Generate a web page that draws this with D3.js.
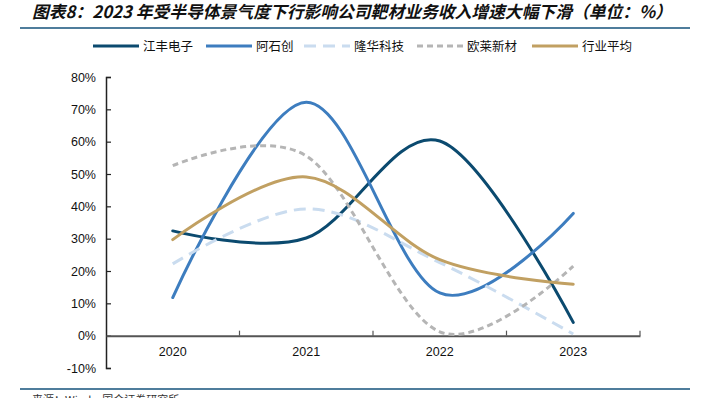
<!DOCTYPE html>
<html>
<head>
<meta charset="utf-8">
<script src="https://cdn.jsdelivr.net/npm/d3@7"></script>
<style>
  body { margin: 0; background: #fff; }
  svg { display: block; }
</style>
</head>
<body>
<div id="chart"></div>
<script>
// data
const years = ["2020", "2021", "2022", "2023"];
const jiangfeng = [32.4, 30.2, 60.2, 4.1];
const ashichuang = [11.8, 72.2, 13.2, 37.8];
const longhua = [22.2, 39.2, 22.6, 0.5];
const oulai = [52.6, 55.6, 1.2, 21.5];
const industryAvg = [29.7, 49.1, 23.5, 15.9];
const yTicks = [-10, 0, 10, 20, 30, 40, 50, 60, 70, 80];

const series = [
  { name: "江丰电子", values: jiangfeng, color: "#0b4a6f", dash: null },
  { name: "阿石创", values: ashichuang, color: "#3d7dbf", dash: null },
  { name: "隆华科技", values: longhua, color: "#cadcef", dash: "12,7" },
  { name: "欧莱新材", values: oulai, color: "#b5b5b5", dash: "6,4" },
  { name: "行业平均", values: industryAvg, color: "#c1a062", dash: null }
];

const width = 702, height = 398;
const cjk = "'Noto Sans CJK SC', sans-serif";
const latin = "'Liberation Sans', Arial, sans-serif";

const svg = d3.select("#chart")
  .append("svg")
  .attr("width", width)
  .attr("height", height);

// title + rules
svg.append("text")
  .attr("x", 32)
  .attr("y", 18)
  .style("font-family", cjk)
  .style("font-size", "16.8px")
  .style("font-weight", "bold")
  .style("font-style", "italic")
  .attr("fill", "#111")
  .text("图表8：2023 年受半导体景气度下行影响公司靶材业务收入增速大幅下滑（单位：%）");

svg.append("line")
  .attr("x1", 20).attr("x2", 690)
  .attr("y1", 28).attr("y2", 28)
  .attr("stroke", "#4f7d9c")
  .attr("stroke-width", 2);

svg.append("line")
  .attr("x1", 20).attr("x2", 690)
  .attr("y1", 389).attr("y2", 389)
  .attr("stroke", "#4f7d9c")
  .attr("stroke-width", 2);

svg.append("text")
  .attr("x", 32)
  .attr("y", 404)
  .style("font-family", cjk)
  .style("font-size", "11px")
  .attr("fill", "#333")
  .text("来源：Wind，国金证券研究所");

// scales
const x = d3.scaleBand()
  .domain(years)
  .range([106, 640])
  .padding(0);

const y = d3.scaleLinear()
  .domain([-10, 80])
  .range([368, 77]);

const cx = d => x(d) + x.bandwidth() / 2;

// y axis, ticks pointing inward
const yAxis = svg.append("g")
  .attr("transform", "translate(106,0)")
  .call(d3.axisLeft(y).tickValues(yTicks).tickSize(-5).tickFormat(d => d + "%"));
yAxis.select(".domain").attr("stroke", "#222").attr("stroke-width", 1.5);
yAxis.selectAll(".tick line").attr("stroke", "#222").attr("stroke-width", 1.2);
yAxis.selectAll("text")
  .attr("x", -10)
  .style("font-family", latin)
  .style("font-size", "12.5px")
  .attr("fill", "#111");

// x axis at zero
const xAxis = svg.append("g")
  .attr("transform", "translate(0," + y(0) + ")")
  .call(d3.axisBottom(x).tickSize(0).tickPadding(11));
xAxis.select(".domain").attr("stroke", "#555").attr("stroke-width", 2);
xAxis.selectAll("text")
  .style("font-family", latin)
  .style("font-size", "12.5px")
  .attr("fill", "#111");

// category boundary ticks (pointing up)
const bounds = years.map(d => x(d)).concat([x.range()[1]]).slice(1);
svg.append("g")
  .selectAll("line")
  .data(bounds)
  .enter()
  .append("line")
  .attr("x1", d => d).attr("x2", d => d)
  .attr("y1", y(0)).attr("y2", y(0) - 5)
  .attr("stroke", "#555")
  .attr("stroke-width", 1.2);

// lines (Excel-style smoothing = cardinal tension 0)
const line = d3.line()
  .x((d, i) => cx(years[i]))
  .y(d => y(d))
  .curve(d3.curveCardinal.tension(0));

svg.append("g")
  .selectAll("path")
  .data(series)
  .enter()
  .append("path")
  .attr("d", d => line(d.values))
  .attr("fill", "none")
  .attr("stroke", d => d.color)
  .attr("stroke-width", 3)
  .attr("stroke-linecap", d => d.dash ? "butt" : "round")
  .attr("stroke-dasharray", d => d.dash);

// legend
const legendX = [93, 206, 304, 417, 532];
const legend = svg.append("g")
  .selectAll("g")
  .data(series)
  .enter()
  .append("g")
  .attr("transform", (d, i) => "translate(" + legendX[i] + ",46)");

legend.append("line")
  .attr("x1", 0).attr("x2", 46)
  .attr("y1", 0).attr("y2", 0)
  .attr("stroke", d => d.color)
  .attr("stroke-width", 3)
  .attr("stroke-dasharray", d => d.dash);

legend.append("text")
  .attr("x", 50)
  .attr("y", 4.5)
  .style("font-family", cjk)
  .style("font-size", "12.5px")
  .attr("fill", "#111")
  .text(d => d.name);
</script>
</body>
</html>
